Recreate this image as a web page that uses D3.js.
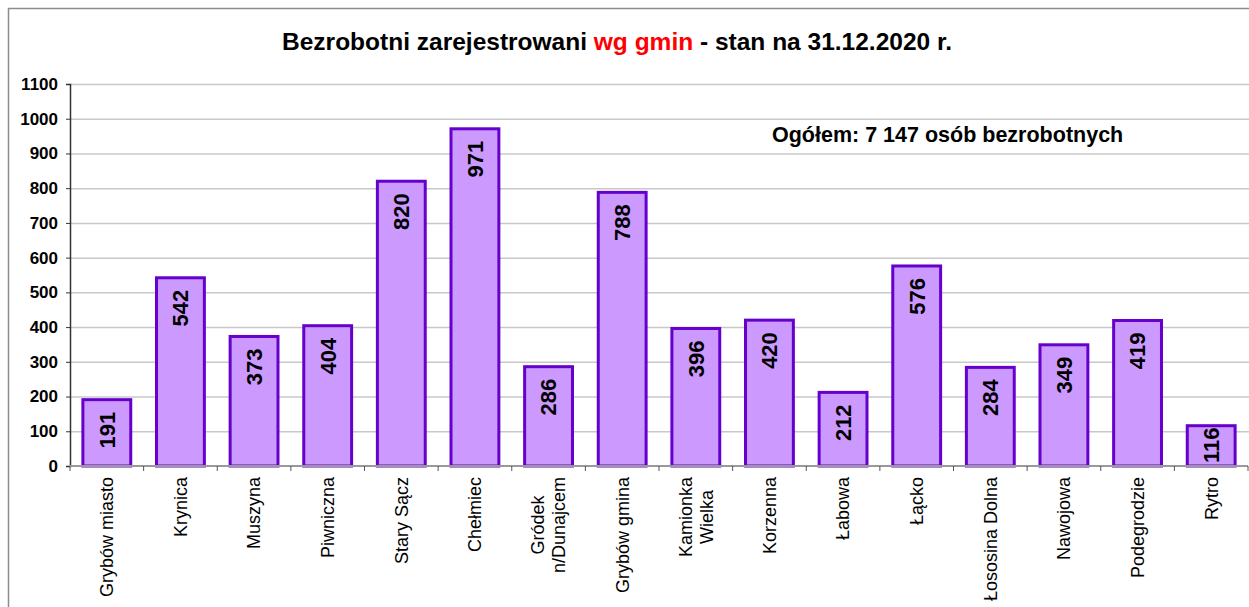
<!DOCTYPE html>
<html lang="pl">
<head>
<meta charset="UTF-8">
<title>Bezrobotni zarejestrowani wg gmin</title>
<script src="https://cdn.jsdelivr.net/npm/d3@7"></script>
<style>
  body { margin: 0; background: #fff; }
  text { font-family: Arial, "Liberation Sans", sans-serif; }
</style>
</head>
<body>
<svg width="1249" height="607"></svg>
<script>
  // dane
  var gminy = ["Grybów miasto", "Krynica", "Muszyna", "Piwniczna", "Stary Sącz", "Chełmiec",
               "Gródek\nn/Dunajcem", "Grybów gmina", "Kamionka\nWielka", "Korzenna", "Łabowa",
               "Łącko", "Łososina Dolna", "Nawojowa", "Podegrodzie", "Rytro"];
  var bezrobotni = [191, 542, 373, 404, 820, 971, 286, 788, 396, 420, 212, 576, 284, 349, 419, 116];
  var yTicks = [0, 100, 200, 300, 400, 500, 600, 700, 800, 900, 1000, 1100];

  var data = gminy.map(function(g, i) { return { name: g, value: bezrobotni[i] }; });

  var svg = d3.select('svg'),
      margin = { top: 84, left: 70, right: 1, bottom: 141 },
      width = +svg.attr('width') - margin.left - margin.right,
      height = +svg.attr('height') - margin.top - margin.bottom;

  // ramka wykresu
  svg.append('rect')
      .attr('x', 8.5).attr('y', 8.5)
      .attr('width', 1300).attr('height', 700)
      .attr('fill', 'none')
      .attr('stroke', '#8c8c8c')
      .attr('stroke-width', 1.5);

  var g = svg.append('g').attr('transform', 'translate(' + margin.left + ',' + margin.top + ')');

  var x = d3.scaleBand()
      .domain(gminy)
      .range([0, width])
      .paddingInner(0.35)
      .paddingOuter(0.175);

  var y = d3.scaleLinear()
      .domain([0, 1100])
      .range([height, 0]);

  // linie siatki
  g.append('g')
      .selectAll('line')
      .data(yTicks.slice(1))
      .enter().append('line')
      .attr('x1', 0).attr('x2', width + margin.right)
      .attr('y1', function(d) { return y(d) + 0.5; })
      .attr('y2', function(d) { return y(d) + 0.5; })
      .attr('stroke', '#c8c8c8')
      .attr('stroke-width', 1.5);

  // słupki
  g.append('g')
      .selectAll('rect')
      .data(data)
      .enter().append('rect')
      .attr('x', function(d) { return x(d.name); })
      .attr('y', function(d) { return y(d.value); })
      .attr('width', x.bandwidth())
      .attr('height', function(d) { return y(0) - y(d.value); })
      .attr('fill', '#cc99ff')
      .attr('stroke', '#6600cc')
      .attr('stroke-width', 3);

  // oś Y
  var yAxis = g.append('g')
      .call(d3.axisLeft(y).tickValues(yTicks).tickSize(4).tickPadding(8).tickFormat(d3.format('d')));
  yAxis.select('.domain').attr('stroke', '#333').attr('stroke-width', 1.5);
  yAxis.selectAll('.tick line').attr('stroke', '#333');
  yAxis.selectAll('text')
      .attr('font-size', '17px')
      .attr('font-weight', 'bold')
      .attr('fill', '#000');

  // oś X
  var step = x.step();
  var xAxis = g.append('g').attr('transform', 'translate(0,' + height + ')');
  xAxis.append('line')
      .attr('x1', 0).attr('x2', width)
      .attr('stroke', '#999').attr('stroke-width', 2);
  xAxis.selectAll('.tk')
      .data(d3.range(gminy.length + 1))
      .enter().append('line')
      .attr('class', 'tk')
      .attr('x1', function(i) { return i * step; })
      .attr('x2', function(i) { return i * step; })
      .attr('y1', 0).attr('y2', 5)
      .attr('stroke', '#555').attr('stroke-width', 1);

  // etykiety kategorii
  var labels = xAxis.selectAll('.lbl')
      .data(data)
      .enter().append('g')
      .attr('class', 'lbl')
      .attr('transform', function(d) {
        return 'translate(' + (x(d.name) + x.bandwidth() / 2) + ',11) rotate(-90)';
      });
  labels.each(function(d) {
    var lines = d.name.split('\n'),
        el = d3.select(this),
        lh = 21;
    var texts = lines.map(function(l, i) {
      return el.append('text')
          .text(l)
          .attr('font-size', '18px')
          .attr('fill', '#000')
          .attr('y', (i - (lines.length - 1) / 2) * lh)
          .attr('dy', '0.35em');
    });
    if (lines.length === 1) {
      texts[0].attr('text-anchor', 'end');
    } else {
      var maxLen = d3.max(texts, function(t) { return t.node().getComputedTextLength(); });
      texts.forEach(function(t) {
        t.attr('text-anchor', 'middle').attr('x', -maxLen / 2);
      });
    }
  });

  // wartości na słupkach
  g.append('g')
      .selectAll('text')
      .data(data)
      .enter().append('text')
      .attr('text-anchor', 'end')
      .attr('dy', '0.36em')
      .attr('font-size', '22px')
      .attr('font-weight', 'bold')
      .attr('fill', '#000')
      .text(function(d) { return d.value; })
      .attr('transform', function(d) {
        var len = this.getComputedTextLength();
        var top = Math.min(y(d.value) + 12, y(0) - len - 3);
        return 'translate(' + (x(d.name) + x.bandwidth() / 2) + ',' + top + ') rotate(-90)';
      });

  // tytuł
  var title = svg.append('text')
      .attr('x', 617)
      .attr('y', 50)
      .attr('text-anchor', 'middle')
      .attr('font-size', '24.5px')
      .attr('font-weight', 'bold')
      .attr('fill', '#000');
  title.append('tspan').text('Bezrobotni zarejestrowani ');
  title.append('tspan').attr('fill', '#ff0000').text('wg gmin');
  title.append('tspan').text(' - stan na 31.12.2020 r.');

  // podsumowanie
  svg.append('text')
      .attr('x', 772)
      .attr('y', 142)
      .attr('font-size', '21.5px')
      .attr('font-weight', 'bold')
      .attr('fill', '#000')
      .text('Ogółem: 7 147 osób bezrobotnych');
</script>
</body>
</html>
